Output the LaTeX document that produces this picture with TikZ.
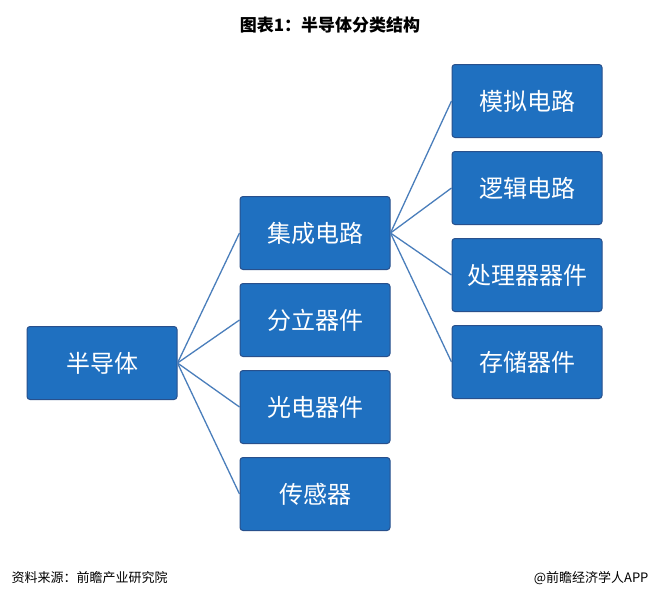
\documentclass[tikz,border=0pt]{standalone}
\usepackage{fontspec}
\setmainfont{Noto Sans CJK SC}
\begin{document}
\begin{tikzpicture}[x=1pt,y=-1pt,
  bx/.style={draw={rgb,255:red,40;green,80;blue,140},fill={rgb,255:red,31;green,112;blue,192},line width=1pt,rounded corners=3pt,minimum width=150pt,minimum height=73pt,text=white,font=\fontsize{24}{28}\selectfont,inner sep=0pt},
  ln/.style={draw={rgb,255:red,74;green,126;blue,187},line width=1.3pt}]
\useasboundingbox (0,0) rectangle (660,605);
\fill[white] (0,0) rectangle (660,605);
\node[font=\fontsize{17}{19}\selectfont\bfseries] (t) at (330,25) {图表1：半导体分类结构};
\node[bx] (r) at (102,363) {半导体};
\node[bx] (m1) at (315,233) {集成电路};
\node[bx] (m2) at (315,320) {分立器件};
\node[bx] (m3) at (315,407) {光电器件};
\node[bx] (m4) at (315,494) {传感器};
\node[bx] (a1) at (527,101) {模拟电路};
\node[bx] (a2) at (527,188) {逻辑电路};
\node[bx] (a3) at (527,275) {处理器器件};
\node[bx] (a4) at (527,362) {存储器件};
\foreach \m in {m1,m2,m3,m4} \draw[ln] (r.east) -- (\m.west);
\foreach \a in {a1,a2,a3,a4} \draw[ln] (m1.east) -- (\a.west);
\node[anchor=west,font=\fontsize{13}{15}\selectfont] (s) at (8,578) {资料来源：前瞻产业研究院};
\node[anchor=east,font=\fontsize{13}{15}\selectfont] (w) at (652,578) {@前瞻经济学人APP};
\end{tikzpicture}
\end{document}
